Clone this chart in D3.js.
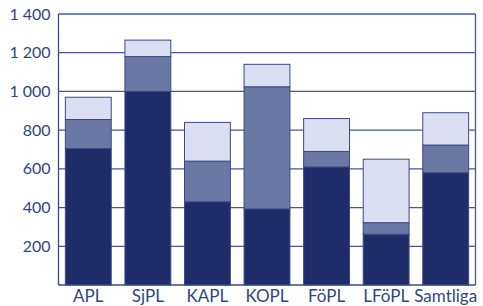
<!DOCTYPE html>
<html><head><meta charset="utf-8">
<script src="https://cdn.jsdelivr.net/npm/d3@7"></script>
<style>html,body{margin:0;padding:0;background:#fff;}svg{display:block;}</style>
</head><body>
<svg id="c" width="483" height="306"></svg>
<script>
const categories = ["APL","SjPL","KAPL","KOPL","FöPL","LFöPL","Samtliga"];
const s1 = [705, 1000, 430, 393, 610, 262, 580];
const s2 = [150, 180, 210, 631, 80, 60, 143];
const s3 = [115, 85, 200, 116, 170, 328, 167];
const yTicks = [200, 400, 600, 800, 1000, 1200, 1400];
const yTickLabels = ["200","400","600","800","1\u2005000","1\u2005200","1\u2005400"];

const colors = ["#1f2c69", "#6b77a4", "#dcdff2"];
const ink = "#34457e";
const svg = d3.select("#c");
const L = 58.5, R = 475.5, T = 14, B = 285;

const x = d3.scaleBand().domain(categories).range([L, R]).paddingInner(0.23).paddingOuter(0.115);
const y = d3.scaleLinear().domain([0, 1400]).range([B, T]);

svg.append("g").selectAll("line").data(yTicks).join("line")
  .attr("x1", L).attr("x2", R).attr("y1", d => y(d)).attr("y2", d => y(d))
  .attr("stroke", "#4a5990").attr("stroke-width", 1.3);

const rows = categories.map((c, i) => ({cat: c, s1: s1[i], s2: s2[i], s3: s3[i]}));
const stack = d3.stack().keys(["s1","s2","s3"])(rows);

svg.append("g").selectAll("g").data(stack).join("g")
  .attr("fill", (d, i) => colors[i])
  .selectAll("rect").data(d => d).join("rect")
  .attr("x", d => x(d.data.cat)).attr("width", x.bandwidth())
  .attr("y", d => y(d[1])).attr("height", d => y(d[0]) - y(d[1]))
  .attr("stroke", "#3b4a82").attr("stroke-width", 1);

svg.append("line").attr("x1", L).attr("x2", L).attr("y1", T).attr("y2", B).attr("stroke", "#3b4a82").attr("stroke-width", 1.3);
svg.append("line").attr("x1", R).attr("x2", R).attr("y1", T).attr("y2", B).attr("stroke", "#4a5990").attr("stroke-width", 1.3);
svg.append("line").attr("x1", L).attr("x2", R).attr("y1", B).attr("y2", B).attr("stroke", "#3b4a82").attr("stroke-width", 1.3);

const yAxis = d3.axisLeft(y).tickValues(yTicks).tickFormat((d, i) => yTickLabels[i]).tickSize(0).tickPadding(8);
const ya = svg.append("g").attr("transform", `translate(${L},0)`).call(yAxis);
ya.select(".domain").remove();
ya.selectAll("text").attr("fill", ink).style("font-family", "Lato, 'Open Sans', sans-serif").style("font-size", "16px");

const xAxis = d3.axisBottom(x).tickSize(0).tickPadding(5);
const xa = svg.append("g").attr("transform", `translate(0,${B})`).call(xAxis);
xa.select(".domain").remove();
xa.selectAll("text").attr("fill", ink).style("font-family", "Lato, 'Open Sans', sans-serif").style("font-size", "17px");
</script>
</body></html>
